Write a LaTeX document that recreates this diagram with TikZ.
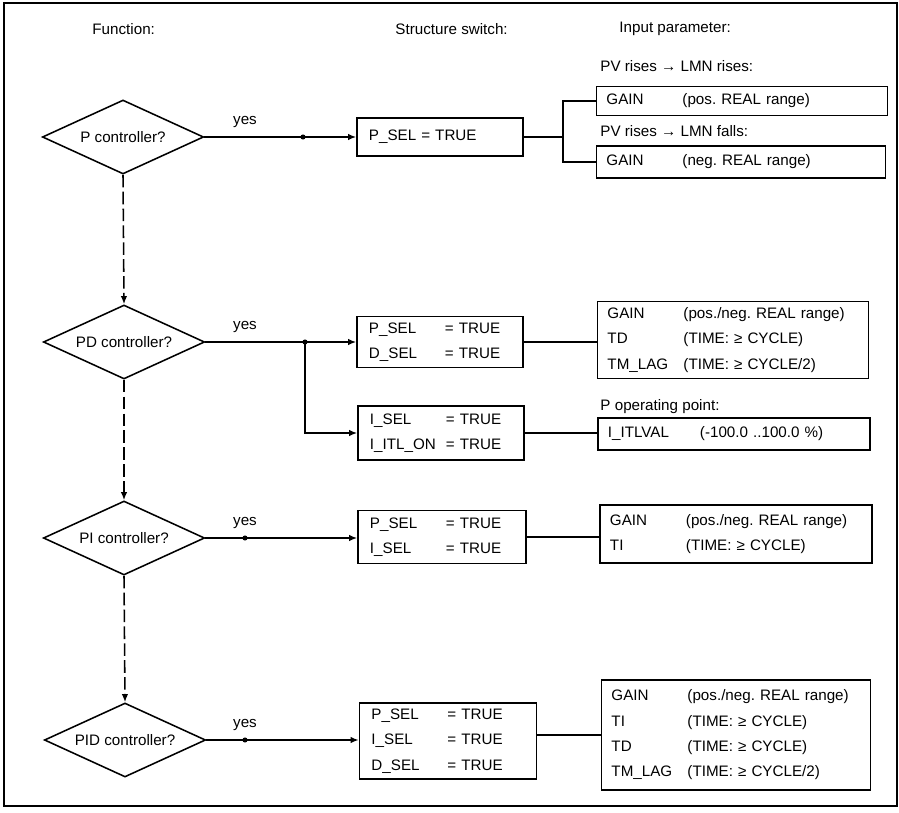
\documentclass[tikz,border=0pt]{standalone}
\usepackage{fontspec}
\setmainfont{Liberation Sans}
\usetikzlibrary{positioning,shapes.geometric,arrows.meta}
\tikzstyle{decision} = [
    draw,
    diamond,
    aspect=2.2,
    inner sep=1pt,
    minimum width=4.03cm,
    minimum height=1.85cm]
\tikzstyle{switchbox} = [
    draw,
    rectangle,
    align=left,
    inner xsep=.3cm,
    inner ysep=0pt]
\tikzstyle{parambox} = [switchbox, inner xsep=.25cm]
\tikzstyle{flow} = [-{Latex[length=2mm,width=1.6mm]}]
\tikzstyle{maybe} = [flow, dash pattern=on 9pt off 3pt]
\def\sel#1#2{\makebox[1.9cm][l]{#1}#2}
\def\prm#1#2{\makebox[1.9cm][l]{#1}#2}
\frenchspacing

\begin{document}
\begin{tikzpicture}[x=.025cm, y=-.025cm, line width=1.1pt,
    font=\fontsize{10.8}{18}\selectfont]
        \useasboundingbox (0,0) rectangle (899,813);
        \draw[line width=1.2pt] (4,3) rectangle (897,806);

        % column heads
        \node[anchor=west] (hfun) at (87,29) {Function:};
        \node[anchor=west] (hsw) at (390,29) {Structure switch:};
        \node[anchor=west] (hpar) at (614,29) {Input parameter:};

        % decisions
        \node[decision] (pc) at (123,137) {P controller?};
        \node[decision] (pdc) at (124,342) {PD controller?};
        \node[decision] (pic) at (124,538) {PI controller?};
        \node[decision] (pidc) at (125,740) {PID controller?};
        \draw[maybe] (pc.south) -- (pdc.north);
        \draw[maybe] (pdc.south) -- (pic.north);
        \draw[maybe] (pic.south) -- (pidc.north);

        % structure switches
        \node[switchbox, text width=3.55cm, minimum height=.95cm] (sw1) at (440,137)
            {P\_SEL = TRUE};
        \node[switchbox, text width=3.55cm, minimum height=1.275cm] (sw2) at (440,342)
            {\sel{P\_SEL}{= TRUE}\\ \sel{D\_SEL}{= TRUE}};
        \node[switchbox, text width=3.55cm, minimum height=1.35cm] (sw3) at (441,433)
            {\sel{I\_SEL}{= TRUE}\\ \sel{I\_ITL\_ON}{= TRUE}};
        \node[switchbox, text width=3.6cm, minimum height=1.325cm] (sw4) at (442,537)
            {\sel{P\_SEL}{= TRUE}\\ \sel{I\_SEL}{= TRUE}};
        \node[switchbox, text width=3.825cm, minimum height=1.9cm] (sw5) at (448,741)
            {\sel{P\_SEL}{= TRUE}\\ \sel{I\_SEL}{= TRUE}\\ \sel{D\_SEL}{= TRUE}};

        % input parameters
        \node[anchor=west] (rise) at (595,66) {PV rises → LMN rises:};
        \node[parambox, text width=6.775cm, minimum height=.725cm] (gpos) at (742,101)
            {\prm{GAIN}{(pos. REAL range)}};
        \node[anchor=west] (fall) at (595,131) {PV rises → LMN falls:};
        \node[parambox, text width=6.725cm, minimum height=.8cm] (gneg) at (741,162)
            {\prm{GAIN}{(neg. REAL range)}};
        \node[parambox, text width=6.275cm, minimum height=1.925cm] (pdpar) at (733,340)
            {\prm{GAIN}{(pos./neg. REAL range)}\\ \prm{TD}{(TIME: ≥ CYCLE)}\\
             \prm{TM\_LAG}{(TIME: ≥ CYCLE/2)}};
        \node[anchor=west] (opp) at (595,407) {P operating point:};
        \node[parambox, text width=6.3cm, minimum height=.8cm] (itlpar) at (734,434)
            {\makebox[2.3cm][l]{I\_ITLVAL}(-100.0 ..100.0 \%)};
        \node[parambox, text width=6.3cm, minimum height=1.45cm] (pipar) at (736,534)
            {\prm{GAIN}{(pos./neg. REAL range)}\\ \prm{TI}{(TIME: ≥ CYCLE)}};
        \node[parambox, text width=6.225cm, minimum height=2.75cm] (pidpar) at (736,735)
            {\prm{GAIN}{(pos./neg. REAL range)}\\ \prm{TI}{(TIME: ≥ CYCLE)}\\
             \prm{TD}{(TIME: ≥ CYCLE)}\\ \prm{TM\_LAG}{(TIME: ≥ CYCLE/2)}};

        % yes branches
        \coordinate (j1) at (303,137);
        \coordinate (j2) at (305,342);
        \coordinate (j3) at (245,538);
        \coordinate (j4) at (245,740);
        \node[above=.1cm] (yes1) at (245,137) {yes};
        \node[above=.1cm] (yes2) at (245,342) {yes};
        \node[above=.1cm] (yes3) at (245,538) {yes};
        \node[above=.1cm] (yes4) at (245,740) {yes};
        \draw (pc.east) -- (j1);
        \draw[flow] (j1) -- (j1 -| sw1.west);
        \draw (pdc.east) -- (j2);
        \draw[flow] (j2) -- (j2 -| sw2.west);
        \draw[flow] (j2) |- (sw3.west);
        \draw (pic.east) -- (j3);
        \draw[flow] (j3) -- (j3 -| sw4.west);
        \draw (pidc.east) -- (j4);
        \draw[flow] (j4) -- (j4 -| sw5.west);
        \foreach \j in {j1,j2,j3,j4}
            \fill (\j) circle(1.8pt);

        % switches to parameters
        \coordinate (fork) at (563,137);
        \draw (sw1.east) -- (fork);
        \draw (gpos.west) -| (fork) |- (gneg.west);
        \draw (sw2.east) -- (sw2.east -| pdpar.west);
        \draw (sw3.east) -- (sw3.east -| itlpar.west);
        \draw (sw4.east) -- (sw4.east -| pipar.west);
        \draw (pidpar.west) -- (pidpar.west -| sw5.east);
    \end{tikzpicture}
\end{document}
